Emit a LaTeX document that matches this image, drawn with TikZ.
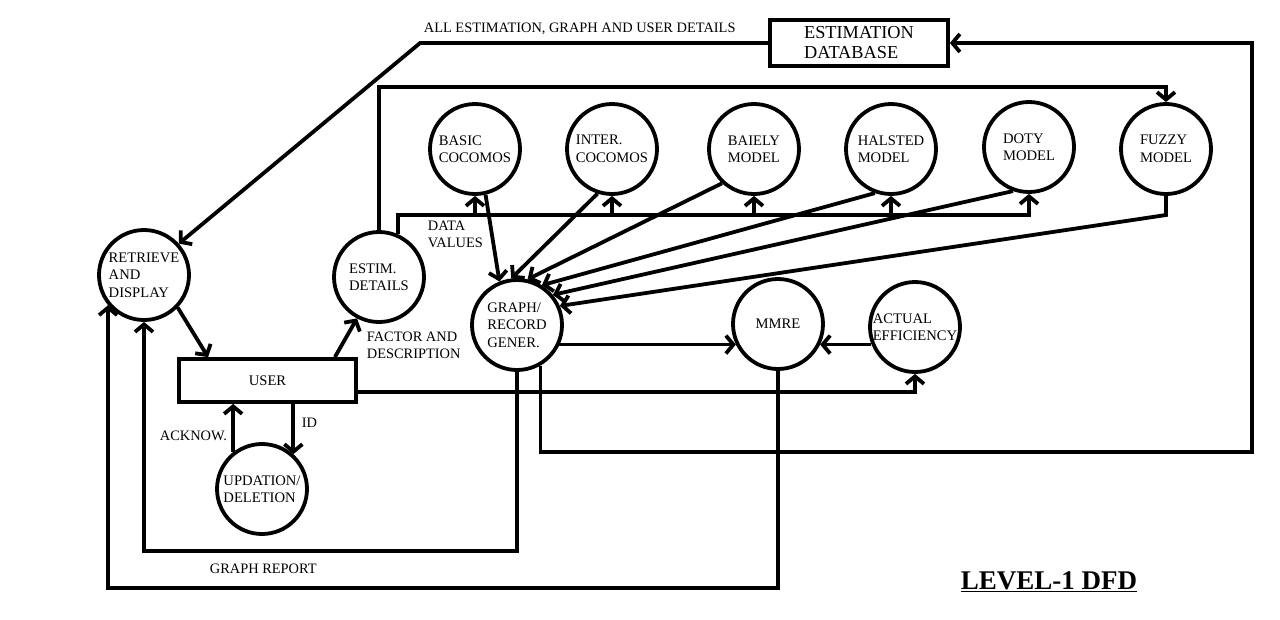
\documentclass[tikz,border=0pt]{standalone}
\usepackage{fontspec}
\setmainfont{Liberation Serif}
\usepackage{tikz}
\usetikzlibrary{arrows.meta}
\tikzset{>={Straight Barb[length=7.5pt,width=18pt]}}

\begin{document}
\begin{tikzpicture}[x=1pt, y=-1pt, line width=3.8pt,
    proc/.style={circle, draw, minimum size=90pt, inner sep=0pt, align=left,
        font=\fontsize{14.6}{17.5}\selectfont},
    store/.style={rectangle, draw, inner sep=0pt, font=\fontsize{14.6}{17}\selectfont},
    lbl/.style={anchor=west, inner sep=0pt, align=left, font=\fontsize{14.4}{17}\selectfont}]
    \fill[white] (0,0) rectangle (1280,619);
    \useasboundingbox (0,0) rectangle (1280,619);
    % stores
    \node[store, minimum width=178pt, minimum height=46pt, align=left,
        font=\fontsize{18.3}{20}\selectfont] (db) at (859,43) {ESTIMATION\\DATABASE};
    \node[store, minimum width=177pt, minimum height=43pt] (user) at (267.5,380.5) {USER};
    % processes
    \node[proc] (retr) at (144,275) {RETRIEVE\\AND\\DISPLAY};
    \node[proc] (est) at (379,277) {ESTIM.\\DETAILS};
    \node[proc] (graph) at (517,325) {GRAPH/\\RECORD\\GENER.};
    \node[proc] (basic) at (475,149) {BASIC\\COCOMOS};
    \node[proc] (inter) at (612,149) {INTER.\\COCOMOS};
    \node[proc] (baiely) at (754,149) {BAIELY\\MODEL};
    \node[proc] (halsted) at (891,149) {HALSTED\\MODEL};
    \node[proc] (doty) at (1029,147) {DOTY\\MODEL};
    \node[proc] (fuzzy) at (1166,149) {FUZZY\\MODEL};
    \node[proc] (mmre) at (778,324) {MMRE};
    \node[proc] (act) at (915,327) {ACTUAL\\EFFICIENCY};
    \node[proc] (upd) at (262,489) {UPDATION/\\DELETION};
    % flow labels
    \node[lbl] (l_all) at (422,29) {ALL ESTIMATION, GRAPH AND USER DETAILS};
    \node[lbl] (l_data) at (426,234) {DATA\\VALUES};
    \node[lbl] (l_fact) at (365,345) {FACTOR AND\\DESCRIPTION};
    \node[lbl] (l_ack) at (158,436) {ACKNOW.};
    \node[lbl] (l_id) at (300,423) {ID};
    \node[lbl] (l_rep) at (208,569) {GRAPH REPORT};
    \node[inner sep=0pt, font=\fontsize{27}{30}\selectfont\bfseries] (title) at (1049,582)
        {\underline{LEVEL-1 DFD}};
    % database out / in
    \draw[->] (db.west) -- ++(-348,0) -- (retr.42);
    \draw[->] (graph.-60) |- (1252,452) |- (db.east);
    % estimation details to the models
    \draw[->] (est.north) -- (est.north |- 0,87) -| (fuzzy.north);
    \draw[->] (est.66) |- (doty.south |- 0,215) -- (doty.south);
    \foreach \m in {basic,inter,baiely,halsted}
        \draw[->] (\m.south |- 0,215) -- (\m.south);
    % models to graph/record
    \draw[->] (basic.-77) -- (graph.112);
    \draw[->] (inter.-108) -- (graph.97);
    \draw[->] (baiely.-133) -- (graph.77);
    \draw[->] (halsted.-110) -- (graph.58);
    \draw[->] (doty.-110) -- (graph.40);
    \draw[->] (fuzzy.south) -- (fuzzy.south |- 0,215) -- (graph.24);
    % mmre
    \draw[->] (graph.-26 |- mmre.206) -- (mmre.206);
    \draw[->] (act.200 |- mmre.-26) -- (mmre.-26);
    \draw[->] (user.east |- 0,392) -| (act.south);
    % reports back to retrieve
    \draw[->] (mmre.south) |- (retr.220 |- 0,588) -- (retr.220);
    \draw[->] (graph.south) |- (retr.south |- 0,551) -- (retr.south);
    % user flows
    \draw[->] (retr.-44) -- ([xshift=31pt]user.north west);
    \draw[->] ([xshift=-23pt]user.north east) -- (est.-118);
    \draw[->] (upd.128) -- (upd.128 |- user.south);
    \draw[->] (upd.48 |- user.south) -- (upd.48);
\end{tikzpicture}
\end{document}
